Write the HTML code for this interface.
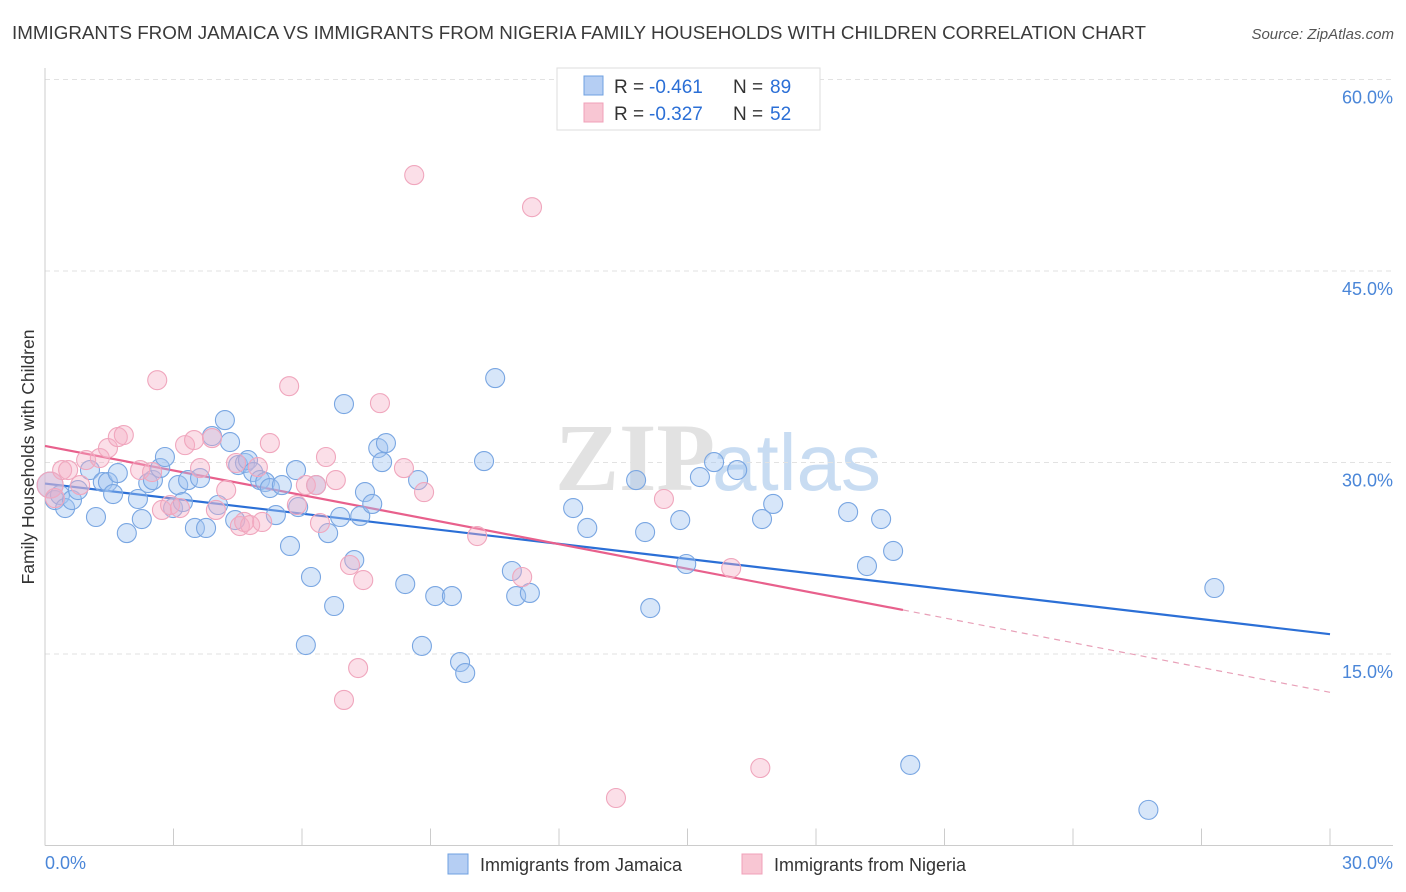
<!DOCTYPE html>
<html><head><meta charset="utf-8"><style>
body{margin:0;background:#fff;font-family:"Liberation Sans",sans-serif;}
svg{display:block}
</style></head><body>
<svg id="chart" width="1406" height="892" xmlns="http://www.w3.org/2000/svg" font-family="Liberation Sans, sans-serif">
<text x="12" y="39" font-size="18.8" fill="#3a3a3a">IMMIGRANTS FROM JAMAICA VS IMMIGRANTS FROM NIGERIA FAMILY HOUSEHOLDS WITH CHILDREN CORRELATION CHART</text>
<text x="1394" y="39" font-size="15" fill="#555" font-style="italic" text-anchor="end">Source: ZipAtlas.com</text>
<g>
<text x="555" y="490" font-size="96" fill="#e2e2e2" font-family="Liberation Serif, serif" font-weight="bold">ZIP</text>
<text x="712" y="490" font-size="80" fill="#c8dcf2">atlas</text>
</g>
<g id="grid"></g>
<g id="axes"></g>
<g id="lines"></g>
<g id="pts"></g>
<text transform="translate(34,457) rotate(-90)" font-size="17.5" fill="#333" text-anchor="middle">Family Households with Children</text>
<g>
<rect x="557" y="68" width="263" height="62" fill="#fff" stroke="#ddd"/>
<rect x="584" y="76" width="19" height="19" fill="#b5cef3" stroke="#6fa0e0"/>
<rect x="584" y="103" width="19" height="19" fill="#f8c6d3" stroke="#f0a0b8"/>
<text x="614" y="93" font-size="19" fill="#333">R =</text>
<text x="649" y="93" font-size="19" fill="#2b6fd6">-0.461</text>
<text x="733" y="93" font-size="19" fill="#333">N =</text>
<text x="770" y="93" font-size="19" fill="#2b6fd6">89</text>
<text x="614" y="120" font-size="19" fill="#333">R =</text>
<text x="649" y="120" font-size="19" fill="#2b6fd6">-0.327</text>
<text x="733" y="120" font-size="19" fill="#333">N =</text>
<text x="770" y="120" font-size="19" fill="#2b6fd6">52</text>
</g>
<g>
<rect x="448" y="854" width="20" height="20" fill="#b5cef3" stroke="#6fa0e0"/>
<text x="480" y="871" font-size="18" fill="#333">Immigrants from Jamaica</text>
<rect x="742" y="854" width="20" height="20" fill="#f8c6d3" stroke="#f0a0b8"/>
<text x="774" y="871" font-size="18" fill="#333">Immigrants from Nigeria</text>
</g>
</svg>
<script>
const jamX=[0.12,0.23,0.35,0.47,0.63,0.77,1.05,1.19,1.35,1.47,1.59,1.70,1.91,2.17,2.26,2.41,2.52,2.69,2.80,2.99,3.11,3.22,3.34,3.50,3.62,3.76,3.90,4.04,4.20,4.32,4.44,4.51,4.67,4.74,4.86,5.02,5.14,5.25,5.39,5.53,5.72,5.86,5.91,6.09,6.21,6.33,6.61,6.75,6.89,6.98,7.22,7.36,7.47,7.64,7.78,7.87,7.96,8.41,8.71,8.80,9.11,9.50,9.69,9.81,10.25,10.51,10.90,11.00,11.32,12.33,12.66,13.80,14.01,14.13,14.83,14.97,15.29,15.62,16.16,16.74,17.00,18.75,19.19,19.52,19.80,20.20,25.76,27.30];
const jamY=[28.23,27.06,27.45,26.43,27.06,27.84,29.41,25.73,28.47,28.47,27.53,29.17,24.47,27.14,25.57,28.39,28.62,29.56,30.43,26.43,28.23,26.90,28.62,24.87,28.78,24.87,32.07,26.67,33.32,31.60,25.49,29.80,29.96,30.19,29.25,28.62,28.47,28.00,25.88,28.23,23.46,29.41,26.51,15.70,21.03,28.23,24.47,18.76,25.73,34.58,22.36,25.81,27.68,26.75,31.13,30.03,31.52,20.48,28.62,15.63,19.54,19.54,14.37,13.51,30.11,36.61,21.50,19.54,19.78,26.43,24.87,28.62,24.55,18.60,25.49,22.05,28.86,30.03,29.41,25.57,26.75,26.12,21.89,25.57,23.07,6.31,2.79,20.17];
const nigX=[0.12,0.23,0.40,0.54,0.82,0.96,1.28,1.47,1.70,1.84,2.22,2.50,2.62,2.73,2.92,3.15,3.27,3.48,3.62,3.90,3.99,4.23,4.46,4.55,4.65,4.79,4.97,5.07,5.25,5.70,5.88,6.09,6.33,6.42,6.56,6.79,6.98,7.12,7.31,7.43,7.82,8.38,8.62,8.85,10.09,11.14,11.37,13.33,14.45,16.02,16.70];
const nigY=[28.23,27.21,29.41,29.41,28.23,30.19,30.35,31.13,31.99,32.15,29.41,29.25,36.45,26.28,26.67,26.43,31.36,31.76,29.56,31.91,26.28,27.84,29.96,25.02,25.34,25.10,29.64,25.34,31.52,35.98,26.67,28.23,28.23,25.26,30.43,28.62,11.40,21.97,13.90,20.79,34.65,29.56,52.51,27.68,24.24,21.03,50.00,3.72,27.14,21.73,6.07];
const jamTrend=[[0,28.35],[30,16.55]];
const nigTrendSolid=[[0,31.3],[20.03,18.45]];
const nigTrendDash=[[20.03,18.45],[30,12.0]];
const yTicks=[15,30,45,60];
const yTickLabels=["15.0%","30.0%","45.0%","60.0%"];
const xTickCount=10;
const X0=45,X1=1330,YB=845.5;
const sx=v=>X0+(X1-X0)*v/30;
const sy=v=>YB-v*12.767;
const NS="http://www.w3.org/2000/svg";
function mk(tag,attrs,parent){const e=document.createElementNS(NS,tag);for(const k in attrs)e.setAttribute(k,attrs[k]);parent.appendChild(e);return e;}
const grid=document.getElementById('grid'),axes=document.getElementById('axes'),lines=document.getElementById('lines'),pts=document.getElementById('pts');
yTicks.forEach((t,i)=>{
 const l=mk('line',{x1:X0,x2:1393,y1:sy(t),y2:sy(t),stroke:'#e2e2e2','stroke-dasharray':'5,4'},grid);
 
 
 const tx=mk('text',{x:1393,y:sy(t)+24,'font-size':18,fill:'#4a86d8','text-anchor':'end'},axes);
 tx.textContent=yTickLabels[i];
 
 
});
const ya=mk('line',{x1:X0,x2:X0,y1:68,y2:YB,stroke:'#ccc'},axes);


const xa=mk('line',{x1:X0,x2:1393,y1:YB,y2:YB,stroke:'#ccc'},axes);


for(let i=0;i<=xTickCount;i++){
 const v=30*i/xTickCount;
 const t=mk('line',{x1:sx(v),x2:sx(v),y1:YB,y2:YB-17,stroke:'#ccc'},axes);
 
 
}
const xl0=mk('text',{x:45,y:869,'font-size':18,fill:'#4a86d8'},axes);xl0.textContent='0.0%';


const xl1=mk('text',{x:1393,y:869,'font-size':18,fill:'#4a86d8','text-anchor':'end'},axes);xl1.textContent='30.0%';


function dots(xs,ys,fill,stroke,name){xs.forEach((x,i)=>{
 const c=mk('circle',{cx:sx(x),cy:sy(ys[i]),r:(i===0?13:9.5),fill:fill,stroke:stroke,'stroke-width':1.1},pts);
 
 
});}
dots(jamX,jamY,'rgba(160,195,240,0.42)','#79a6e2','jamaica-point');
dots(nigX,nigY,'rgba(245,175,198,0.4)','#f0a6bd','nigeria-point');
function ln(seg,stroke,w,dash,name){const a={x1:sx(seg[0][0]),y1:sy(seg[0][1]),x2:sx(seg[1][0]),y2:sy(seg[1][1]),stroke:stroke,'stroke-width':w};if(dash)a['stroke-dasharray']=dash;
 const l=mk('line',a,lines);
 
 }
ln(jamTrend,'#2b6fd6',2.2,null,'jamaica-trend-line');
ln(nigTrendSolid,'#e8608c',2.2,null,'nigeria-trend-line');
ln(nigTrendDash,'#e8a0b8',1.2,'6,5','nigeria-trend-extension');
</script>
</body></html>
